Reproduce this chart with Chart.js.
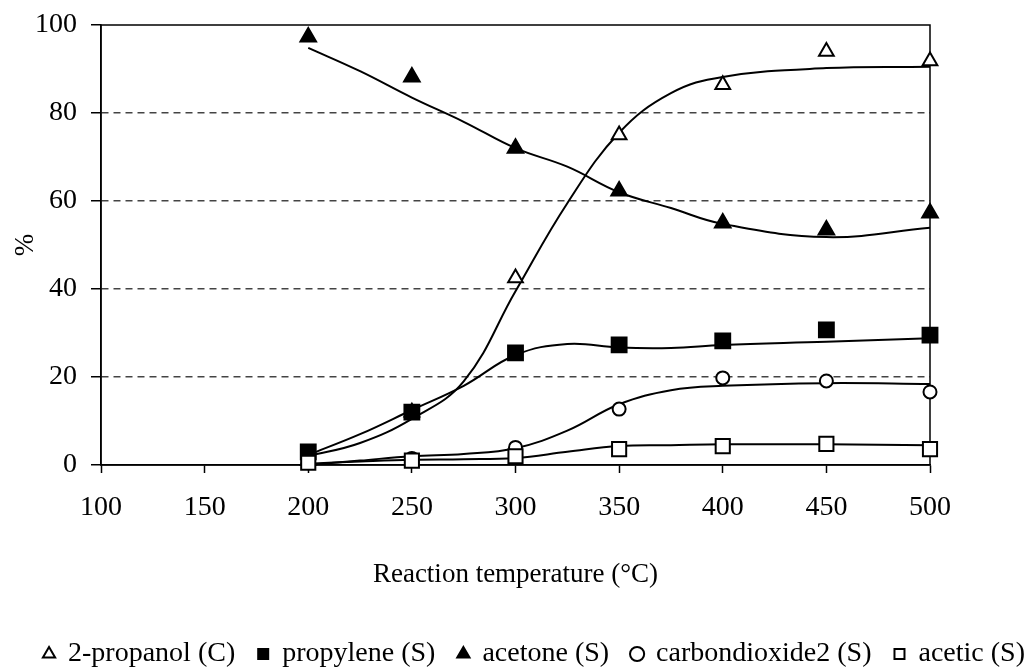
<!DOCTYPE html>
<html>
<head>
<meta charset="utf-8">
<script src="https://cdn.jsdelivr.net/npm/chart.js@4"></script>
<style>
  html, body { margin: 0; padding: 0; background: #fff; }
  canvas { display: block; }
</style>
</head>
<body>
<canvas id="chart" width="1033" height="671"></canvas>
<script>
// Measured points
const temps = [200, 250, 300, 350, 400, 450, 500];
const propanol = [1, 12, 42.5, 75, 86.4, 94, 91.8];
const propylene = [3, 12, 25.5, 27.3, 28.2, 30.7, 29.5];
const acetone = [97.3, 88.2, 72, 62.3, 55, 53.4, 57.3];
const co2 = [0.5, 1.5, 4, 12.7, 19.8, 19.1, 16.6];
const acetic = [0.5, 1, 2, 3.6, 4.3, 4.8, 3.6];

// Trend curves
const fitTemps = [200, 225, 250, 275, 300, 325, 350, 375, 400, 450, 500];
const propanolFit = [2, 5, 10.5, 19, 39.5, 59.5, 75.5, 84.5, 88.2, 90.2, 90.5];
const propyleneFit = [2.3, 7, 12.5, 18, 25, 27.5, 26.7, 26.6, 27.3, 28, 28.8];
const acetoneFit = [94.8, 89.5, 83.5, 78, 72, 67.8, 62, 58.4, 54.8, 51.8, 53.9];
const co2Fit = [0, 1, 2, 2.5, 3.8, 7.8, 13.8, 17, 18, 18.6, 18.4];
const aceticFit = [0.3, 0.8, 1.2, 1.3, 1.6, 3, 4.3, 4.5, 4.7, 4.7, 4.5];

const labels = ['2-propanol (C)', 'propylene (S)', 'acetone (S)', 'carbondioxide2 (S)', 'acetic (S)'];

const xy = (xs, ys) => xs.map((x, i) => ({ x: x, y: ys[i] }));
const serif = 'Liberation Serif, Times New Roman, serif';

function markers(label, values, style, fill, radius, order) {
    return {
        label: label,
        data: xy(temps, values),
        showLine: false,
        pointStyle: style,
        pointRadius: radius,
        pointHoverRadius: radius,
        backgroundColor: fill,
        borderColor: '#000',
        borderWidth: 2,
        clip: false,
        order: order,
    };
}

function curve(values) {
    return {
        label: 'fit',
        data: xy(fitTemps, values),
        showLine: true,
        pointRadius: 0,
        borderColor: '#000',
        borderWidth: 2,
        tension: 0.4,
        fill: false,
        order: 5,
    };
}

// plot frame (top and right border)
const frame = {
    id: 'frame',
    beforeDatasetsDraw(chart) {
        const a = chart.chartArea;
        const ctx = chart.ctx;
        ctx.save();
        ctx.strokeStyle = '#000';
        ctx.lineWidth = 1.5;
        ctx.strokeRect(a.left, a.top, a.right - a.left, a.bottom - a.top);
        ctx.restore();
    }
};

// nudge the legend row a little to sit like the original
const legendShift = {
    id: 'legendShift',
    afterLayout(chart) {
        const lg = chart.legend;
        lg.top += 7; lg.bottom += 7;
        lg.left += 18; lg.right += 18;
    }
};

const noPad = s => { s.paddingTop = 0; s.paddingBottom = 0; s.paddingLeft = 0; s.paddingRight = 0; };

new Chart(document.getElementById('chart'), {
    type: 'scatter',
    data: {
        datasets: [
            markers(labels[0], propanol, 'triangle', '#fff', 8.5, 2),
            markers(labels[1], propylene, 'rect', '#000', 10.5, 1),
            markers(labels[2], acetone, 'triangle', '#000', 9, 1),
            markers(labels[3], co2, 'circle', '#fff', 6.5, 1),
            markers(labels[4], acetic, 'rect', '#fff', 10, 0),
            curve(propanolFit),
            curve(propyleneFit),
            curve(acetoneFit),
            curve(co2Fit),
            curve(aceticFit),
        ],
    },
    options: {
        responsive: false,
        animation: false,
        devicePixelRatio: 1,
        layout: { padding: { left: 0, right: 0, top: 25, bottom: 0 } },
        plugins: {
            tooltip: { enabled: false },
            legend: {
                position: 'bottom',
                labels: {
                    filter: item => item.datasetIndex < 5,
                    sort: (a, b) => a.datasetIndex - b.datasetIndex,
                    usePointStyle: true,
                    boxWidth: 10,
                    boxHeight: 10,
                    padding: 23,
                    color: '#000',
                    font: { family: serif, size: 28 },
                },
            },
        },
        scales: {
            x: {
                type: 'linear',
                min: 100,
                max: 500,
                afterFit: s => { s.height = 145; noPad(s); },
                ticks: { stepSize: 50, padding: 18, color: '#000', font: { family: serif, size: 28 } },
                grid: { drawOnChartArea: false, tickLength: 8, tickColor: '#000', tickWidth: 1.5 },
                border: { color: '#000', width: 1.5 },
                title: {
                    display: true,
                    text: 'Reaction temperature (°C)',
                    color: '#000',
                    font: { family: serif, size: 27 },
                    padding: { top: 0, bottom: 19 },
                },
            },
            y: {
                min: 0,
                max: 100,
                afterFit: s => { s.width = 101; noPad(s); },
                ticks: { stepSize: 20, padding: 14, color: '#000', font: { family: serif, size: 28 } },
                grid: {
                    color: c => (c.tick && (c.tick.value === 0 || c.tick.value === 100)) ? 'rgba(0,0,0,0)' : '#444',
                    lineWidth: 1.5,
                    tickLength: 10,
                    tickColor: '#000',
                    tickWidth: 1.5,
                },
                border: { color: '#000', width: 1.5, dash: [7, 5] },
                title: {
                    display: true,
                    text: '%',
                    color: '#000',
                    font: { family: serif, size: 27 },
                    padding: { top: 10, bottom: 0 },
                },
            },
            // empty right margin so the legend can use the full width
            yRight: {
                position: 'right',
                afterFit: s => { s.width = 103; noPad(s); },
                ticks: { display: false },
                grid: { display: false },
                border: { display: false },
            },
        },
    },
    plugins: [frame, legendShift],
});
</script>
</body>
</html>
